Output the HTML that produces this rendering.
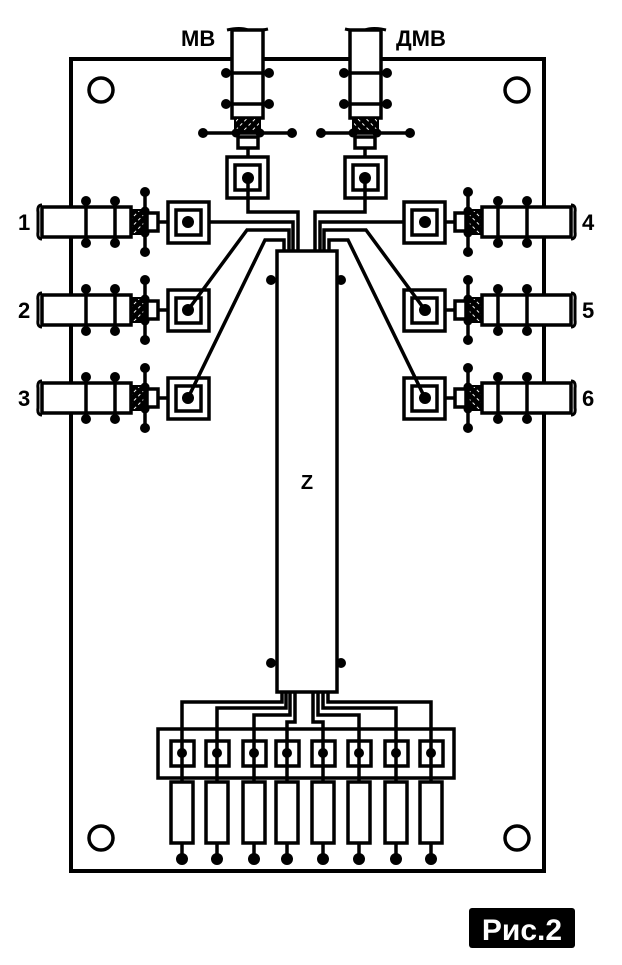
<!DOCTYPE html>
<html><head><meta charset="utf-8"><style>
html,body{margin:0;padding:0;background:#fff;width:622px;height:965px;overflow:hidden}
svg{display:block}
</style></head><body>
<svg width="622" height="965" viewBox="0 0 622 965" xmlns="http://www.w3.org/2000/svg">
<defs>
<pattern id="h" width="6" height="6" patternUnits="userSpaceOnUse" patternTransform="rotate(45)">
<rect width="6" height="6" fill="#000"/><rect x="0" y="0" width="1" height="3" fill="#fff"/>
</pattern>
<g id="side">
 <path d="M42,-17 Q37,-17 38,-10 L38,10 Q37,17 42,17" fill="none" stroke="#000" stroke-width="3"/>
 <rect x="42" y="-15" width="89" height="30" fill="#fff" stroke="#000" stroke-width="3.5"/>
 <line x1="86" y1="-21" x2="86" y2="21" stroke="#000" stroke-width="3.5"/>
 <line x1="115" y1="-21" x2="115" y2="21" stroke="#000" stroke-width="3.5"/>
 <circle cx="86" cy="-21" r="5"/><circle cx="86" cy="21" r="5"/>
 <circle cx="115" cy="-21" r="5"/><circle cx="115" cy="21" r="5"/>
 <rect x="131" y="-12" width="14" height="24" fill="url(#h)" stroke="#000" stroke-width="2"/>
 <line x1="145" y1="-30" x2="145" y2="30" stroke="#000" stroke-width="3.5"/>
 <circle cx="145" cy="-30" r="5"/><circle cx="145" cy="30" r="5"/>
 <circle cx="145" cy="-11" r="4.5"/><circle cx="145" cy="11" r="4.5"/>
 <rect x="147" y="-9" width="11" height="18" fill="#fff" stroke="#000" stroke-width="3.5"/>
 <line x1="158" y1="0" x2="168" y2="0" stroke="#000" stroke-width="3.5"/>
 <rect x="168" y="-20" width="41" height="41" fill="none" stroke="#000" stroke-width="3.5"/>
 <rect x="176" y="-12" width="25" height="25" fill="none" stroke="#000" stroke-width="3.5"/>
 <circle cx="188" cy="0" r="6"/>
</g>
<g id="top">
 <path d="M227,30 Q240,27 248,30 Q256,32 268,29" fill="none" stroke="#000" stroke-width="3"/>
 <rect x="232" y="30" width="31" height="88" fill="#fff" stroke="#000" stroke-width="3.5"/>
 <line x1="226" y1="73" x2="269" y2="73" stroke="#000" stroke-width="3.5"/>
 <line x1="226" y1="104" x2="269" y2="104" stroke="#000" stroke-width="3.5"/>
 <circle cx="226" cy="73" r="5"/><circle cx="269" cy="73" r="5"/>
 <circle cx="226" cy="104" r="5"/><circle cx="269" cy="104" r="5"/>
 <rect x="235" y="118" width="25" height="14" fill="url(#h)" stroke="#000" stroke-width="2"/>
 <line x1="203" y1="133" x2="292" y2="133" stroke="#000" stroke-width="3.5"/>
 <circle cx="203" cy="133" r="5"/><circle cx="292" cy="133" r="5"/>
 <circle cx="236" cy="133" r="4.5"/><circle cx="260" cy="133" r="4.5"/>
 <rect x="238" y="137" width="20" height="11" fill="#fff" stroke="#000" stroke-width="3.5"/>
 <line x1="248" y1="148" x2="248" y2="157" stroke="#000" stroke-width="3.5"/>
 <rect x="227" y="157" width="41" height="41" fill="none" stroke="#000" stroke-width="3.5"/>
 <rect x="235" y="165" width="25" height="25" fill="none" stroke="#000" stroke-width="3.5"/>
 <circle cx="248" cy="178" r="6"/>
 <polyline points="248,178 248,212 298,212 298,251" fill="none" stroke="#000" stroke-width="3.5"/>
 <polyline points="209,222 293,222 293,251" fill="none" stroke="#000" stroke-width="3.5"/>
 <polyline points="188,310 247,230 289,230 289,251" fill="none" stroke="#000" stroke-width="3.5"/>
 <polyline points="188,398 265,240 284,240 284,251" fill="none" stroke="#000" stroke-width="3.5"/>
</g>
</defs>
<rect x="71" y="59" width="473" height="812" fill="none" stroke="#000" stroke-width="4"/>
<circle cx="101" cy="90" r="12" fill="none" stroke="#000" stroke-width="3.5"/>
<circle cx="517" cy="90" r="12" fill="none" stroke="#000" stroke-width="3.5"/>
<circle cx="101" cy="838" r="12" fill="none" stroke="#000" stroke-width="3.5"/>
<circle cx="517" cy="838" r="12" fill="none" stroke="#000" stroke-width="3.5"/>

<use href="#top"/>
<g transform="translate(613,0) scale(-1,1)"><use href="#top"/></g>
<use href="#side" transform="translate(0,222)"/>
<use href="#side" transform="translate(0,310)"/>
<use href="#side" transform="translate(0,398)"/>
<g transform="translate(613,0) scale(-1,1)">
<use href="#side" transform="translate(0,222)"/>
<use href="#side" transform="translate(0,310)"/>
<use href="#side" transform="translate(0,398)"/>
</g>

<rect x="277" y="251" width="60" height="441" fill="#fff" stroke="#000" stroke-width="3.5"/>
<circle cx="271" cy="280" r="5"/><circle cx="341" cy="280" r="5"/>
<circle cx="271" cy="663" r="5"/><circle cx="341" cy="663" r="5"/>
<text x="307" y="489" font-family="Liberation Sans, sans-serif" font-weight="bold" font-size="20" text-anchor="middle">Z</text>

<g fill="none" stroke="#000" stroke-width="3.5">
<polyline points="182,860 182,702 282,702 282,692"/>
<polyline points="217,860 217,708 286,708 286,692"/>
<polyline points="254,860 254,715 290,715 290,692"/>
<polyline points="287,860 287,722 295,722 295,692"/>
<polyline points="323,860 323,722 313,722 313,692"/>
<polyline points="359,860 359,715 318,715 318,692"/>
<polyline points="396,860 396,708 323,708 323,692"/>
<polyline points="431,860 431,702 328,702 328,692"/>
<rect x="158" y="729" width="296" height="49"/>
</g>
<g fill="#fff" stroke="#000" stroke-width="3.5">
<rect x="171" y="741" width="23" height="25"/><rect x="206" y="741" width="23" height="25"/>
<rect x="243" y="741" width="23" height="25"/><rect x="276" y="741" width="23" height="25"/>
<rect x="312" y="741" width="23" height="25"/><rect x="348" y="741" width="23" height="25"/>
<rect x="385" y="741" width="23" height="25"/><rect x="420" y="741" width="23" height="25"/>
<rect x="171" y="782" width="22" height="61"/><rect x="206" y="782" width="22" height="61"/>
<rect x="243" y="782" width="22" height="61"/><rect x="276" y="782" width="22" height="61"/>
<rect x="312" y="782" width="22" height="61"/><rect x="348" y="782" width="22" height="61"/>
<rect x="385" y="782" width="22" height="61"/><rect x="420" y="782" width="22" height="61"/>
</g>
<g stroke="#000" stroke-width="3.5">
<line x1="182" y1="741" x2="182" y2="766"/><line x1="217" y1="741" x2="217" y2="766"/>
<line x1="254" y1="741" x2="254" y2="766"/><line x1="287" y1="741" x2="287" y2="766"/>
<line x1="323" y1="741" x2="323" y2="766"/><line x1="359" y1="741" x2="359" y2="766"/>
<line x1="396" y1="741" x2="396" y2="766"/><line x1="431" y1="741" x2="431" y2="766"/>
</g>
<g>
<circle cx="182" cy="753" r="5"/><circle cx="217" cy="753" r="5"/><circle cx="254" cy="753" r="5"/><circle cx="287" cy="753" r="5"/>
<circle cx="323" cy="753" r="5"/><circle cx="359" cy="753" r="5"/><circle cx="396" cy="753" r="5"/><circle cx="431" cy="753" r="5"/>
<circle cx="182" cy="859" r="6"/><circle cx="217" cy="859" r="6"/><circle cx="254" cy="859" r="6"/><circle cx="287" cy="859" r="6"/>
<circle cx="323" cy="859" r="6"/><circle cx="359" cy="859" r="6"/><circle cx="396" cy="859" r="6"/><circle cx="431" cy="859" r="6"/>
</g>

<g font-family="Liberation Sans, DejaVu Sans, sans-serif" font-weight="bold" font-size="22">
<text x="181" y="46">МВ</text>
<text x="396" y="46">ДМВ</text>
<text x="18" y="230">1</text>
<text x="18" y="318">2</text>
<text x="18" y="406">3</text>
<text x="582" y="230">4</text>
<text x="582" y="318">5</text>
<text x="582" y="406">6</text>
</g>
<rect x="469" y="908" width="106" height="40" rx="3" fill="#000"/>
<text x="522" y="940" font-family="Liberation Sans, DejaVu Sans, sans-serif" font-weight="bold" font-size="30" fill="#fff" text-anchor="middle">Рис.2</text>
</svg>
</body></html>
